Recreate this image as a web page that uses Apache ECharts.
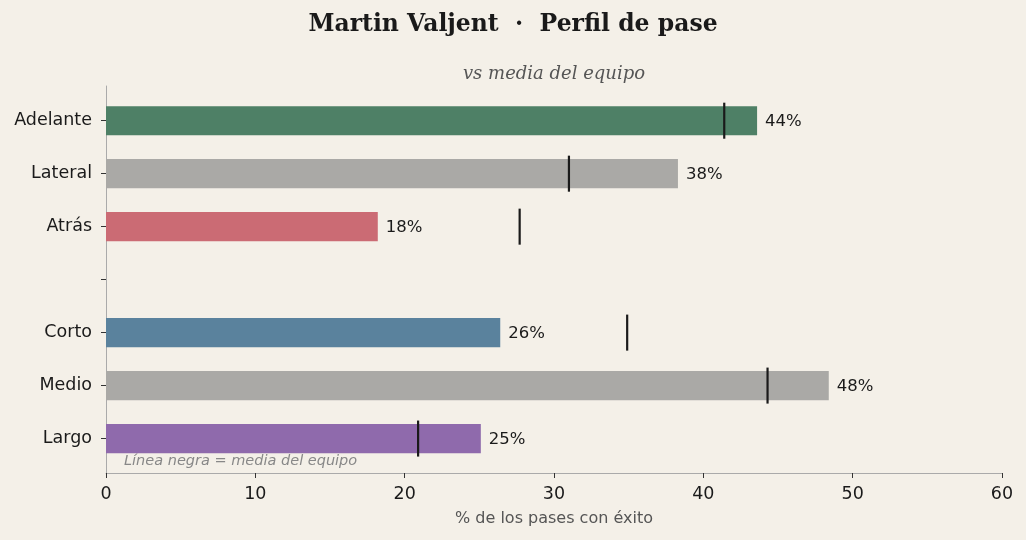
<!DOCTYPE html>
<html>
<head>
<meta charset="utf-8">
<script src="https://cdn.jsdelivr.net/npm/echarts@6/dist/echarts.min.js"></script>
<style>
html,body{margin:0;padding:0;background:#f4f0e8;}
#chart{width:1026px;height:540px;}
</style>
</head>
<body>
<div id="chart"></div>
<script>
// ---- data ----
const categories = ['Adelante', 'Lateral', 'Atrás', '', 'Corto', 'Medio', 'Largo'];
const playerValues = [43.6, 38.3, 18.2, null, 26.4, 48.4, 25.1];
const teamMeans = [41.4, 31.0, 27.7, null, 34.9, 44.3, 20.9];
const xTicks = [0, 10, 20, 30, 40, 50, 60];

// ---- styles ----
const SANS = '"DejaVu Sans"';
const SERIF = '"DejaVu Serif"';
const barColors = ['#4e8066', '#aaa9a6', '#cb6b74', null, '#5a829d', '#aaa9a6', '#8f6aac'];
const BAR_H = 0.55, MEAN_H = 0.68;

const barData = [];
const meanData = [];
playerValues.forEach((v, i) => { if (v != null) barData.push([v, i]); });
teamMeans.forEach((v, i) => { if (v != null) meanData.push([v, i]); });

const chart = echarts.init(document.getElementById('chart'));
chart.setOption({
  backgroundColor: '#f4f0e8',
  animation: false,
  title: [
    {
      text: 'Martin Valjent  ·  Perfil de pase',
      left: 508, top: 8, textAlign: 'center',
      textStyle: { fontFamily: SERIF, fontWeight: 'bold', fontSize: 23.5, color: '#1a1a1a' }
    },
    {
      text: 'vs media del equipo',
      left: 549, top: 60, textAlign: 'center',
      textStyle: { fontFamily: SERIF, fontStyle: 'italic', fontWeight: 'normal', fontSize: 18, color: '#555' }
    }
  ],
  grid: { left: 106, right: 24, top: 86, bottom: 67 },
  xAxis: {
    type: 'value', min: 0, max: 60, interval: 10,
    name: '% de los pases con éxito', nameLocation: 'middle', nameGap: 38,
    nameTextStyle: { fontFamily: SANS, fontSize: 16, color: '#555' },
    axisLine: { show: true, onZero: false, lineStyle: { color: '#aaa', width: 1 } },
    axisTick: { show: true, length: 5, lineStyle: { color: '#333' } },
    axisLabel: { fontFamily: SANS, fontSize: 17.5, color: '#1a1a1a', margin: 12,
      formatter: v => xTicks.includes(v) ? String(v) : '' },
    splitLine: { show: false }
  },
  yAxis: {
    type: 'value', inverse: true, min: -0.655, max: 6.65,
    axisLine: { show: true, onZero: false, lineStyle: { color: '#aaa', width: 1 } },
    axisTick: { show: true, length: 5, lineStyle: { color: '#333' },
      customValues: categories.map((c, i) => i) },
    axisLabel: { fontFamily: SANS, fontSize: 17.5, color: '#1a1a1a', margin: 14,
      padding: [4, 0, 0, 0],
      customValues: categories.map((c, i) => i),
      formatter: v => categories[Math.round(v)] || '' },
    splitLine: { show: false }
  },
  graphic: [
    {
      type: 'text', left: 124, top: 454,
      style: { text: 'Línea negra = media del equipo', fontFamily: SANS, fontStyle: 'italic',
        fontSize: 14.5, fill: '#888' }
    }
  ],
  series: [
    {
      type: 'custom',
      encode: { x: 0, y: 1 },
      data: barData,
      renderItem: function (params, api) {
        const v = api.value(0), i = api.value(1);
        const s = api.coord([0, i]), e = api.coord([v, i]);
        const h = api.size([0, BAR_H])[1];
        return {
          type: 'group',
          children: [
            { type: 'rect', shape: { x: s[0], y: s[1] - h / 2, width: e[0] - s[0], height: h },
              style: { fill: barColors[i] } },
            { type: 'text', style: { text: Math.round(v) + '%', x: e[0] + 8, y: e[1] + 1,
                verticalAlign: 'middle', align: 'left', fontFamily: SANS, fontSize: 16.5, fill: '#1a1a1a' } }
          ]
        };
      }
    },
    {
      type: 'custom',
      encode: { x: 0, y: 1 },
      data: meanData,
      z: 5,
      renderItem: function (params, api) {
        const v = api.value(0), i = api.value(1);
        const c = api.coord([v, i]);
        const h = api.size([0, MEAN_H])[1];
        return { type: 'line', shape: { x1: c[0], y1: c[1] - h / 2, x2: c[0], y2: c[1] + h / 2 },
          style: { stroke: '#1a1a1a', lineWidth: 2.2 } };
      }
    }
  ]
});
</script>
</body>
</html>
